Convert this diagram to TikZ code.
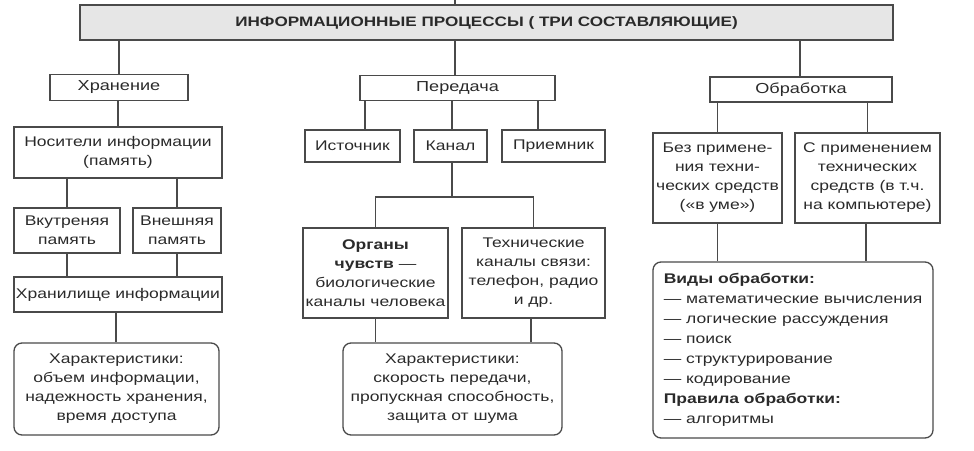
\documentclass[tikz,border=0pt]{standalone}
\usepackage{fontspec}
\setmainfont{Liberation Sans}[FakeStretch=1.25]
\definecolor{lc}{HTML}{4A4A4A}
\definecolor{tc}{HTML}{2A2A2A}
\definecolor{tf}{HTML}{E6E6E6}
\newcommand{\fsn}{\fontsize{14}{19}\selectfont}
\begin{document}
\begin{tikzpicture}[x=1pt,y=-1pt,
  box/.style={draw=lc, line width=1.3pt, inner sep=0pt, align=center, font=\fsn, text=tc},
  rbox/.style={box, rounded corners=8pt},
  hbox/.style={box, font=\fontsize{14.5}{19}\selectfont},
  conn/.style={draw=lc, line width=1.2pt}]
\useasboundingbox (0,0) rectangle (974,450);
% top
\node[box, fill=tf, minimum width=813, minimum height=35, font=\fontsize{13.7}{16}\selectfont\bfseries] (top) at (486.5,22.5) {ИНФОРМАЦИОННЫЕ ПРОЦЕССЫ ( ТРИ СОСТАВЛЯЮЩИЕ)};
\coordinate (stub) at (455,0);
\draw[conn] (stub) -- (stub |- top.north);
% level 1
\node[hbox, minimum width=138, minimum height=26] (hran) at (119,87.5) {Хранение};
\node[hbox, minimum width=195, minimum height=25] (pered) at (457.5,88) {Передача};
\node[hbox, minimum width=182, minimum height=25] (obr) at (801,89.5) {Обработка};
\draw[conn] (hran.north) -- (hran.north |- top.south);
\draw[conn] ([xshift=-2.5]pered.north) -- ([xshift=-2.5]pered.north |- top.south);
\draw[conn] ([xshift=-1]obr.north) -- ([xshift=-1]obr.north |- top.south);
% left column
\node[box, minimum width=208, minimum height=51] (nos) at (118,152.5) {Носители информации\\(память)};
\node[box, minimum width=106, minimum height=45] (vnut) at (67,230.5) {Вкутреняя\\память};
\node[box, minimum width=88, minimum height=45] (vnesh) at (177,230.5) {Внешняя\\память};
\node[box, minimum width=208, minimum height=35] (hranil) at (118,294.5) {Хранилище информации};
\node[rbox, minimum width=205, minimum height=92] (harL) at (116.5,389) {Характеристики:\\объем информации,\\надежность хранения,\\время доступа};
\draw[conn] ([xshift=-1]hran.south) -- ([xshift=-1]hran.south |- nos.north);
\draw[conn] (vnut.north) -- (vnut.north |- nos.south);
\draw[conn] (vnesh.north) -- (vnesh.north |- nos.south);
\draw[conn] (vnut.south) -- (vnut.south |- hranil.north);
\draw[conn] (vnesh.south) -- (vnesh.south |- hranil.north);
\draw[conn] ([xshift=-2]hranil.south) -- ([xshift=-2]hranil.south |- harL.north);
% middle column
\node[box, minimum width=95, minimum height=32] (ist) at (352.5,146) {Источник};
\node[box, minimum width=73, minimum height=32] (kanal) at (450.5,146) {Канал};
\node[box, minimum width=103, minimum height=32] (prm) at (553.5,146) {Приемник};
\draw[conn] ([xshift=12.5]ist.north) -- ([xshift=12.5]ist.north |- pered.south);
\draw[conn] ([xshift=1.5]kanal.north) -- ([xshift=1.5]kanal.north |- pered.south);
\draw[conn] ([xshift=-15.5]prm.north) -- ([xshift=-15.5]prm.north |- pered.south);
\node[box, minimum width=145, minimum height=90] (org) at (375.5,273) {\textbf{Органы}\\\textbf{чувств} —\\биологические\\каналы человека};
\node[box, minimum width=143, minimum height=90] (tech) at (533.5,273) {Технические\\каналы связи:\\телефон, радио\\и др.};
\coordinate (kj) at (452,197);
\draw[conn] ([xshift=1.5]kanal.south) -- (kj);
\draw[conn] (org.north) |- (kj) -| (tech.north);
\node[rbox, minimum width=219, minimum height=92] (harM) at (452.5,389) {Характеристики:\\скорость передачи,\\пропускная способность,\\защита от шума};
\draw[conn] (org.south) -- (org.south |- harM.north);
\draw[conn] ([xshift=-2.5]tech.south) -- ([xshift=-2.5]tech.south |- harM.north);
% right column
\node[box, minimum width=129, minimum height=90] (bez) at (717.5,178) {Без примене-\\ния техни-\\ческих средств\\(«в уме»)};
\node[box, minimum width=145, minimum height=90] (spr) at (867.5,178) {С применением\\технических\\средств (в т.ч.\\на компьютере)};
\draw[conn] (bez.north) -- (bez.north |- obr.south);
\draw[conn] (spr.north) -- (spr.north |- obr.south);
\node[rbox, align=left, minimum width=280, minimum height=176, font=\fontsize{14}{20}\selectfont] (vidy) at (793,350) {\textbf{Виды обработки:}\\— математические вычисления\\— логические рассуждения\\— поиск\\— структурирование\\— кодирование\\\textbf{Правила обработки:}\\— алгоритмы};
\draw[conn] (bez.south) -- (bez.south |- vidy.north);
\draw[conn] ([xshift=-1.5]spr.south) -- ([xshift=-1.5]spr.south |- vidy.north);
\end{tikzpicture}
\end{document}
